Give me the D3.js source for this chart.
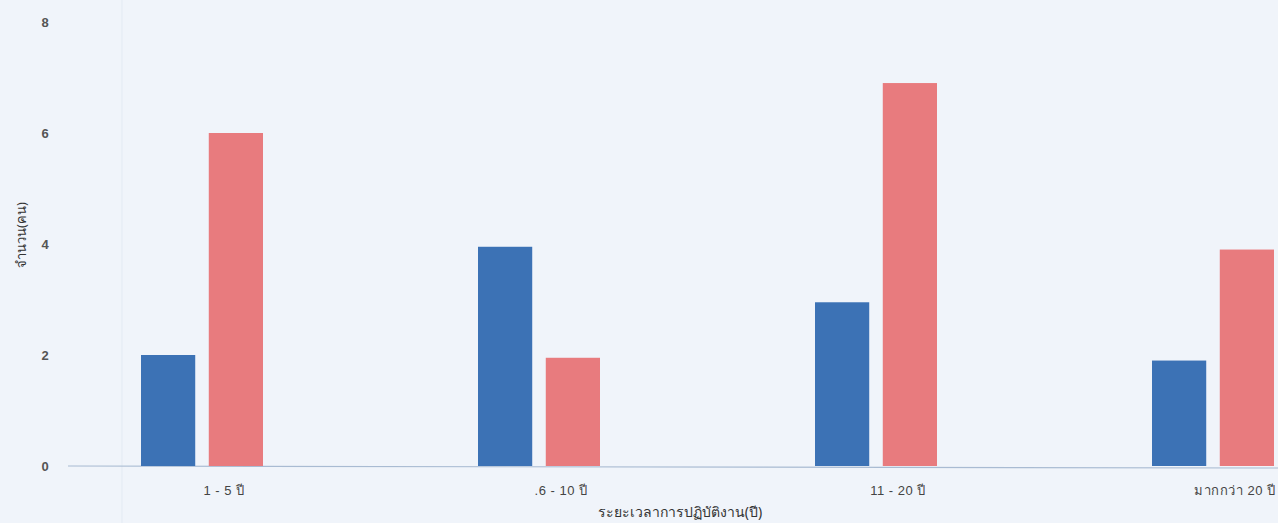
<!DOCTYPE html>
<html>
<head>
<meta charset="utf-8">
<script src="https://cdn.jsdelivr.net/npm/d3@7"></script>
<style>
  body { margin: 0; background: #f0f4fa; }
  svg { display: block; font-family: "Noto Sans", "DejaVu Sans", sans-serif; }
</style>
</head>
<body>
<div id="chart"></div>
<script>
(function () {
  const Blue = "#3c72b5";
  const Red = "#e87b7e";

  // categories and series values
  var categories = ["1 - 5 ปี", ".6 - 10 ปี", "11 - 20 ปี", "มากกว่า 20 ปี"];
  var seriesNames = ["a", "b"];
  var blueValues = [2, 3.95, 2.95, 1.9];
  var redValues = [6, 1.95, 6.9, 3.9];
  var yTicks = [0, 2, 4, 6, 8];

  var width = 1278;
  var height = 523;

  var svg = d3
    .select("#chart")
    .append("svg")
    .attr("width", width)
    .attr("height", height);

  // x scale (the group band runs past the right edge, as in the scan)
  var x0 = d3.scaleBand().domain(categories).range([33.5, 33.5 + 337 * 4]);
  var x1 = d3.scaleBand().domain(seriesNames).range([0, 122]).paddingInner(0.2);
  var groupOffset = (x0.bandwidth() - 122) / 2;

  // y scale
  var y = d3.scaleLinear().domain([0, 8]).range([466, 22]);

  // faint plot border
  svg
    .append("line")
    .attr("x1", 122)
    .attr("x2", 122)
    .attr("y1", 0)
    .attr("y2", height)
    .attr("stroke", "#e3eaf3")
    .attr("stroke-width", 1);

  // y axis tick labels
  var yAxis = svg
    .append("g")
    .attr("class", "y-axis")
    .attr("transform", "translate(50,0)")
    .call(d3.axisLeft(y).tickValues(yTicks).tickSize(0).tickPadding(0));
  yAxis.select(".domain").remove();
  yAxis
    .selectAll("text")
    .attr("text-anchor", "middle")
    .attr("dx", -5)
    .style("font-size", "13px")
    .style("font-weight", "600")
    .style("fill", "#555");

  // baseline
  svg
    .append("line")
    .attr("x1", 68)
    .attr("x2", width)
    .attr("y1", y(0))
    .attr("y2", y(0) + 2)
    .attr("stroke", "#a9bbd2")
    .attr("stroke-width", 1.2);

  // bars
  var rows = categories.map(function (c, i) {
    return { cat: c, a: blueValues[i], b: redValues[i] };
  });

  var groups = svg
    .selectAll(".group")
    .data(rows)
    .enter()
    .append("g")
    .attr("class", "group")
    .attr("transform", function (d) {
      return "translate(" + (x0(d.cat) + groupOffset) + ",0)";
    });

  groups
    .selectAll("rect")
    .data(function (d) {
      return seriesNames.map(function (s) {
        return { key: s, value: d[s] };
      });
    })
    .enter()
    .append("rect")
    .attr("x", function (d) {
      return x1(d.key);
    })
    .attr("y", function (d) {
      return y(d.value);
    })
    .attr("width", x1.bandwidth())
    .attr("height", function (d) {
      return y(0) - y(d.value);
    })
    .attr("fill", function (d) {
      return d.key === "a" ? Blue : Red;
    });

  // x tick labels
  var xAxis = svg
    .append("g")
    .attr("class", "x-axis")
    .attr("transform", "translate(0," + 486 + ")")
    .call(d3.axisBottom(x0).tickSize(0).tickPadding(0));
  xAxis.select(".domain").remove();
  xAxis
    .selectAll("text")
    .attr("dx", 22)
    .style("font-size", "13px")
    .style("letter-spacing", "0.5px")
    .style("fill", "#444");

  // x axis label
  svg
    .append("text")
    .attr("x", 680)
    .attr("y", 517)
    .attr("text-anchor", "middle")
    .style("font-size", "14px")
    .style("fill", "#333")
    .text("ระยะเวลาการปฏิบัติงาน(ปี)");

  // y axis label
  svg
    .append("text")
    .attr("transform", "rotate(-90)")
    .attr("x", -235)
    .attr("y", 26)
    .attr("text-anchor", "middle")
    .style("font-size", "13px")
    .style("fill", "#333")
    .text("จำนวน(คน)");
})();
</script>
</body>
</html>
